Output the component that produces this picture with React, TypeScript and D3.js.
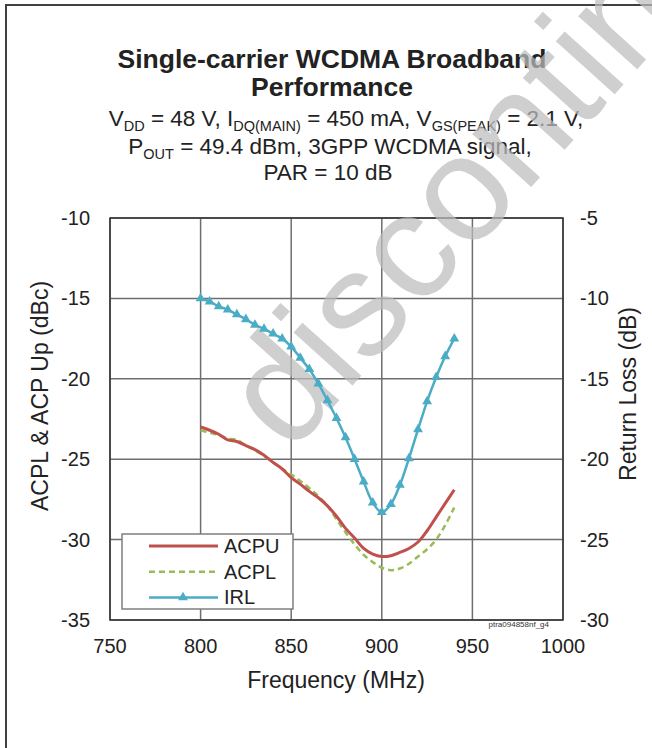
import React from 'react';
import * as d3 from 'd3';

// Frequency (MHz) sample points
const freq = [800, 805, 810, 815, 820, 825, 830, 835, 840, 845, 850, 855, 860, 865, 870,
  875, 880, 885, 890, 895, 900, 905, 910, 915, 920, 925, 930, 935, 940];

// ACPU (dBc), left axis
const acpu = [-23.0, -23.2, -23.45, -23.8, -23.9, -24.15, -24.4, -24.75, -25.2, -25.6, -26.15,
  -26.55, -27.0, -27.4, -27.9, -28.55, -29.3, -29.9, -30.55, -30.9, -31.05, -31.0, -30.8,
  -30.55, -30.15, -29.45, -28.6, -27.75, -26.9];

// ACPL (dBc), left axis
const acpl = [-23.2, -23.35, -23.5, -23.7, -23.8, -24.15, -24.45, -24.8, -25.2, -25.6, -25.95,
  -26.35, -26.8, -27.3, -27.9, -28.75, -29.55, -30.3, -30.95, -31.4, -31.75, -31.9, -31.8,
  -31.5, -31.05, -30.6, -30.0, -29.1, -28.0];

// IRL (dB), right axis
const irl = [-10.0, -10.2, -10.5, -10.7, -11.0, -11.3, -11.65, -11.9, -12.2, -12.5, -13.0,
  -13.7, -14.4, -15.3, -16.35, -17.45, -18.65, -20.0, -21.4, -22.7, -23.3, -22.8, -21.6,
  -19.95, -18.15, -16.4, -14.9, -13.6, -12.5];

const xTicks = [750, 800, 850, 900, 950, 1000];
const yLeftTicks = [-10, -15, -20, -25, -30, -35];
const yRightTicks = [-5, -10, -15, -20, -25, -30];

const legendItems = [
  { name: 'ACPU', color: '#c0504d', dash: null, marker: false },
  { name: 'ACPL', color: '#9bbb59', dash: '6,4', marker: false },
  { name: 'IRL', color: '#4bacc6', dash: null, marker: true },
];

const FONT = 'Liberation Sans, Arial, sans-serif';

export default function App() {
  const W = 652, H = 748;
  const plot = { left: 110, right: 563, top: 218, bottom: 620 };

  const x = d3.scaleLinear().domain([750, 1000]).range([plot.left, plot.right]);
  const yL = d3.scaleLinear().domain([-35, -10]).range([plot.bottom, plot.top]);
  const yR = d3.scaleLinear().domain([-30, -5]).range([plot.bottom, plot.top]);

  const lineL = d3.line<number>()
    .x((_, i) => x(freq[i]))
    .y(d => yL(d))
    .curve(d3.curveCatmullRom);
  const lineR = d3.line<number>()
    .x((_, i) => x(freq[i]))
    .y(d => yR(d))
    .curve(d3.curveCatmullRom);

  const tri = d3.symbol().type(d3.symbolTriangle).size(42)() || '';
  const grid = '#6e6e6e';

  return (
    <svg width={W} height={H} style={{ position: 'absolute', left: 0, top: 0, background: '#fff' }}
      fontFamily={FONT}>
      {/* outer frame */}
      <rect x={6} y={5} width={W + 20} height={H + 20} fill="none" stroke="#404040" strokeWidth={2} />

      {/* title */}
      <text x={332} y={68} textAnchor="middle" fontSize={26.5} fontWeight="bold" fill="#222">
        Single-carrier WCDMA Broadband
      </text>
      <text x={332} y={96} textAnchor="middle" fontSize={26.5} fontWeight="bold" fill="#222">
        Performance
      </text>
      <text x={346} y={126} textAnchor="middle" fontSize={22.5} fill="#222">
        V<tspan fontSize={14.5} dy={5}>DD</tspan>
        <tspan dy={-5}> = 48 V, I</tspan>
        <tspan fontSize={14.5} dy={5}>DQ(MAIN)</tspan>
        <tspan dy={-5}> = 450 mA, V</tspan>
        <tspan fontSize={14.5} dy={5}>GS(PEAK)</tspan>
        <tspan dy={-5}> = 2.1 V,</tspan>
      </text>
      <text x={330} y={154} textAnchor="middle" fontSize={22.5} fill="#222">
        P<tspan fontSize={14.5} dy={5}>OUT</tspan>
        <tspan dy={-5}> = 49.4 dBm, 3GPP WCDMA signal,</tspan>
      </text>
      <text x={328} y={180} textAnchor="middle" fontSize={22.5} fill="#222">PAR = 10 dB</text>

      {/* grid */}
      {xTicks.map(t => (
        <line key={'gx' + t} x1={x(t)} x2={x(t)} y1={plot.top} y2={plot.bottom}
          stroke={grid} strokeWidth={1.5} />
      ))}
      {yLeftTicks.map(t => (
        <line key={'gy' + t} x1={plot.left} x2={plot.right} y1={yL(t)} y2={yL(t)}
          stroke={grid} strokeWidth={1.5} />
      ))}
      <rect x={plot.left} y={plot.top} width={plot.right - plot.left} height={plot.bottom - plot.top}
        fill="none" stroke="#333" strokeWidth={1.5} />

      {/* tick labels */}
      {xTicks.map(t => (
        <text key={'tx' + t} x={x(t)} y={653} textAnchor="middle" fontSize={20} fill="#222">{t}</text>
      ))}
      {yLeftTicks.map(t => (
        <text key={'tl' + t} x={90} y={yL(t) + 7} textAnchor="end" fontSize={20} fill="#222">{t}</text>
      ))}
      {yRightTicks.map(t => (
        <text key={'tr' + t} x={580} y={yR(t) + 7} textAnchor="start" fontSize={20} fill="#222">{t}</text>
      ))}

      {/* axis titles */}
      <text x={336} y={688} textAnchor="middle" fontSize={23} fill="#222">Frequency (MHz)</text>
      <text transform="translate(48,396) rotate(-90)" textAnchor="middle" fontSize={23} fill="#222">
        ACPL &amp; ACP Up (dBc)
      </text>
      <text transform="translate(636,394) rotate(-90)" textAnchor="middle" fontSize={23} fill="#222">
        Return Loss (dB)
      </text>
      <text x={549} y={627} textAnchor="end" fontSize={8} fill="#333">ptra094858nf_g4</text>

      {/* watermark */}
      <text transform="translate(290,455) rotate(-48)" fontSize={150} fill="#bdbdbd" fillOpacity={0.72}>
        discontinued
      </text>

      {/* series */}
      <path d={lineL(acpl) || ''} fill="none" stroke="#9bbb59" strokeWidth={2.5} strokeDasharray="6,4" />
      <path d={lineL(acpu) || ''} fill="none" stroke="#c0504d" strokeWidth={3} />
      <path d={lineR(irl) || ''} fill="none" stroke="#4bacc6" strokeWidth={2.5} />
      {irl.map((v, i) => (
        <path key={'m' + i} d={tri} transform={`translate(${x(freq[i])},${yR(v)})`} fill="#4bacc6" />
      ))}

      {/* legend */}
      <rect x={122} y={534} width={171} height={75} fill="#fff" stroke="#7f7f7f" strokeWidth={1.5} />
      {legendItems.map((it, i) => {
        const ly = 546 + i * 25.7;
        return (
          <g key={it.name}>
            <line x1={149} x2={218} y1={ly} y2={ly} stroke={it.color} strokeWidth={it.name === 'ACPU' ? 3 : 2.5}
              strokeDasharray={it.dash || undefined} />
            {it.marker && <path d={tri} transform={`translate(183,${ly})`} fill={it.color} />}
            <text x={224} y={ly + 7} fontSize={20} fill="#222">{it.name}</text>
          </g>
        );
      })}
    </svg>
  );
}
